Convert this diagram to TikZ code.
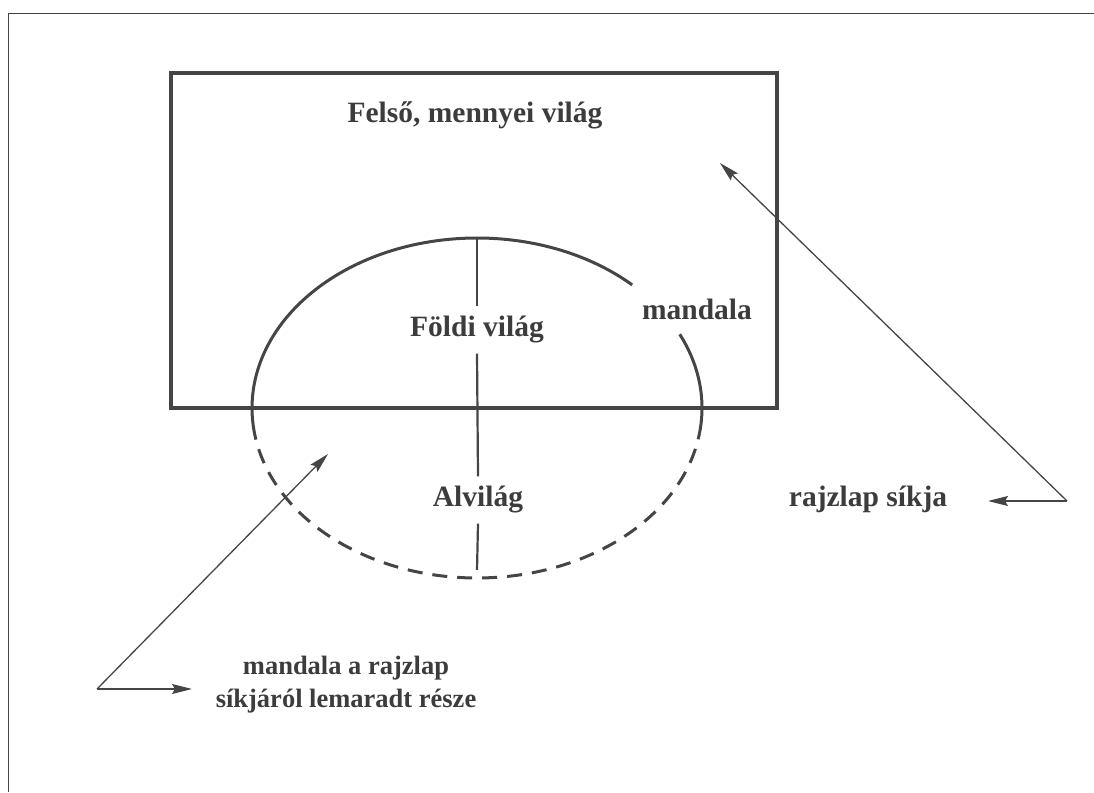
\documentclass[tikz,border=0pt]{standalone}
\usepackage{fontspec}
\setmainfont{Liberation Serif}
\usetikzlibrary{arrows.meta}
\definecolor{ink}{HTML}{454545}
\definecolor{txt}{HTML}{3C3C3C}
\tikzset{
  lbl/.style={font=\fontsize{29.5}{34}\selectfont\bfseries, text=txt, inner xsep=2pt, inner ysep=10pt, anchor=base},
  smalllbl/.style={font=\fontsize{26.5}{33}\selectfont\bfseries, text=txt, inner xsep=2pt, inner ysep=6pt, anchor=base, align=center},
  frameline/.style={draw=ink, line width=1.6pt},
  planebox/.style={draw=ink, line width=3.6pt},
  mandalaline/.style={draw=ink, line width=3pt},
  mandaladash/.style={draw=ink, line width=3pt, dash pattern=on 15pt off 10pt},
  axisline/.style={draw=ink, line width=2.2pt},
  pointer/.style={draw=ink, line width=1.3pt, -{Stealth[length=20pt,width=10pt,inset=3pt]}}
}
\begin{document}
\begin{tikzpicture}[x=1pt,y=1pt]
\useasboundingbox (0,0) rectangle (1094,792);
% outer frame (left and top edges)
\coordinate (fb) at (8.5,0);
\coordinate (ftl) at (8.5,778.5);
\coordinate (ftr) at (1094,778.5);
\draw[frameline] (fb) -- (ftl) -- (ftr);
% drawing plane
\coordinate (rtl) at (171,719);
\coordinate (rbr) at (777,384);
\draw[planebox] (rtl) rectangle (rbr);
% mandala ellipse
\coordinate (c) at (477,384);
\draw[mandalaline] (c) ++(-8.5:225 and 170) arc[start angle=-8.5, end angle=25.7, x radius=225, y radius=170];
\draw[mandalaline] (c) ++(46.4:225 and 170) arc[start angle=46.4, end angle=185.7, x radius=225, y radius=170];
\draw[mandaladash] (c) ++(185.7:225 and 170) arc[start angle=185.7, end angle=351.5, x radius=225, y radius=170];
% labels
\node[lbl] (felso) at (475,669) {Felső, mennyei világ};
\node[lbl] (foldi) at (477,455) {Földi világ};
\node[lbl] (mandala) at (697,472) {mandala};
\node[lbl] (alvilag) at (478,285) {Alvilág};
\node[lbl] (sikja) at (868,285) {rajzlap síkja};
\node[smalllbl] (lemaradt) at (346,84) {mandala a rajzlap\\síkjáról lemaradt része};
% vertical axis
\coordinate (vtop) at (477,554);
\coordinate (vbot) at (477,222);
\draw[axisline] (vtop) -- (foldi.north);
\draw[axisline] (foldi.south) -- (alvilag.north);
\draw[axisline] (alvilag.south) -- (vbot);
% pointers: plane
\coordinate (ca) at (1067,291);
\coordinate (ta1) at (720,629);
\coordinate (ta2) at (988,291);
\draw[pointer] (ca) -- (ta1);
\draw[pointer] (ca) -- (ta2);
% pointers: missing part
\coordinate (cb) at (97,103);
\coordinate (tb1) at (328,338);
\coordinate (tb2) at (192,103);
\draw[pointer] (cb) -- (tb1);
\draw[pointer] (cb) -- (tb2);
\end{tikzpicture}
\end{document}
